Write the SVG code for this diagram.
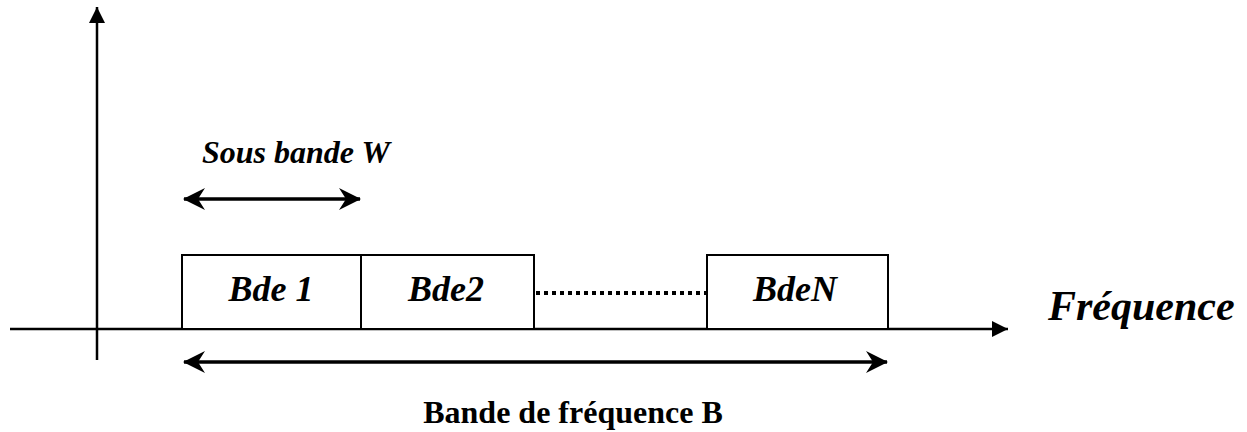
<svg xmlns="http://www.w3.org/2000/svg" width="1247" height="432" viewBox="0 0 1247 432">
<style>
.ax{stroke:#000;stroke-width:2.5;fill:none}
.bx{fill:#fff;stroke:#000;stroke-width:2}
.dbl{stroke:#000;stroke-width:3.5;fill:none}
.lbl{font-family:"Liberation Serif","Times New Roman",serif;font-weight:bold;font-style:italic;fill:#000}
.plain{font-family:"Liberation Serif","Times New Roman",serif;font-weight:bold;fill:#000}
</style>
<defs>
<marker id="tri" viewBox="0 0 16 16" refX="16" refY="8" markerWidth="16" markerHeight="16" markerUnits="userSpaceOnUse" orient="auto">
<path d="M0,0 L16,8 L0,16 Z" fill="#000"/>
</marker>
<marker id="barb" viewBox="0 0 22 24" refX="21" refY="12" markerWidth="22" markerHeight="24" markerUnits="userSpaceOnUse" orient="auto-start-reverse">
<path d="M0,1 L22,12 L0,23 L7,12 Z" fill="#000"/>
</marker>
</defs>
<g id="connectors">
<line id="y-axis" class="ax" x1="97" y1="360" x2="97" y2="7" marker-end="url(#tri)"/>
<line id="x-axis" class="ax" x1="10" y1="329" x2="1008" y2="329" marker-end="url(#tri)"/>
<line id="dots" x1="536" y1="293" x2="706" y2="293" stroke="#000" stroke-width="4" stroke-dasharray="4,4"/>
<line id="arrow-w" class="dbl" x1="184" y1="199" x2="360" y2="199" marker-start="url(#barb)" marker-end="url(#barb)"/>
<line id="arrow-b" class="dbl" x1="184" y1="362" x2="887" y2="362" marker-start="url(#barb)" marker-end="url(#barb)"/>
</g>
<g id="bde1">
<rect class="bx" x="182" y="255" width="179" height="74"/>
<text class="lbl" x="271" y="301" font-size="36" text-anchor="middle">Bde 1</text>
</g>
<g id="bde2">
<rect class="bx" x="361" y="255" width="173" height="74"/>
<text class="lbl" x="446" y="301" font-size="36" text-anchor="middle">Bde2</text>
</g>
<g id="bdeN">
<rect class="bx" x="707" y="255" width="181" height="74"/>
<text class="lbl" x="795" y="301" font-size="36" text-anchor="middle">BdeN</text>
</g>
<g id="label-w">
<text class="lbl" x="202" y="163" font-size="32">Sous bande W</text>
</g>
<g id="label-freq">
<text class="lbl" x="1048" y="320" font-size="42">Fréquence</text>
</g>
<g id="label-b">
<text class="plain" x="573" y="423" font-size="32" text-anchor="middle">Bande de fréquence B</text>
</g>
</svg>
